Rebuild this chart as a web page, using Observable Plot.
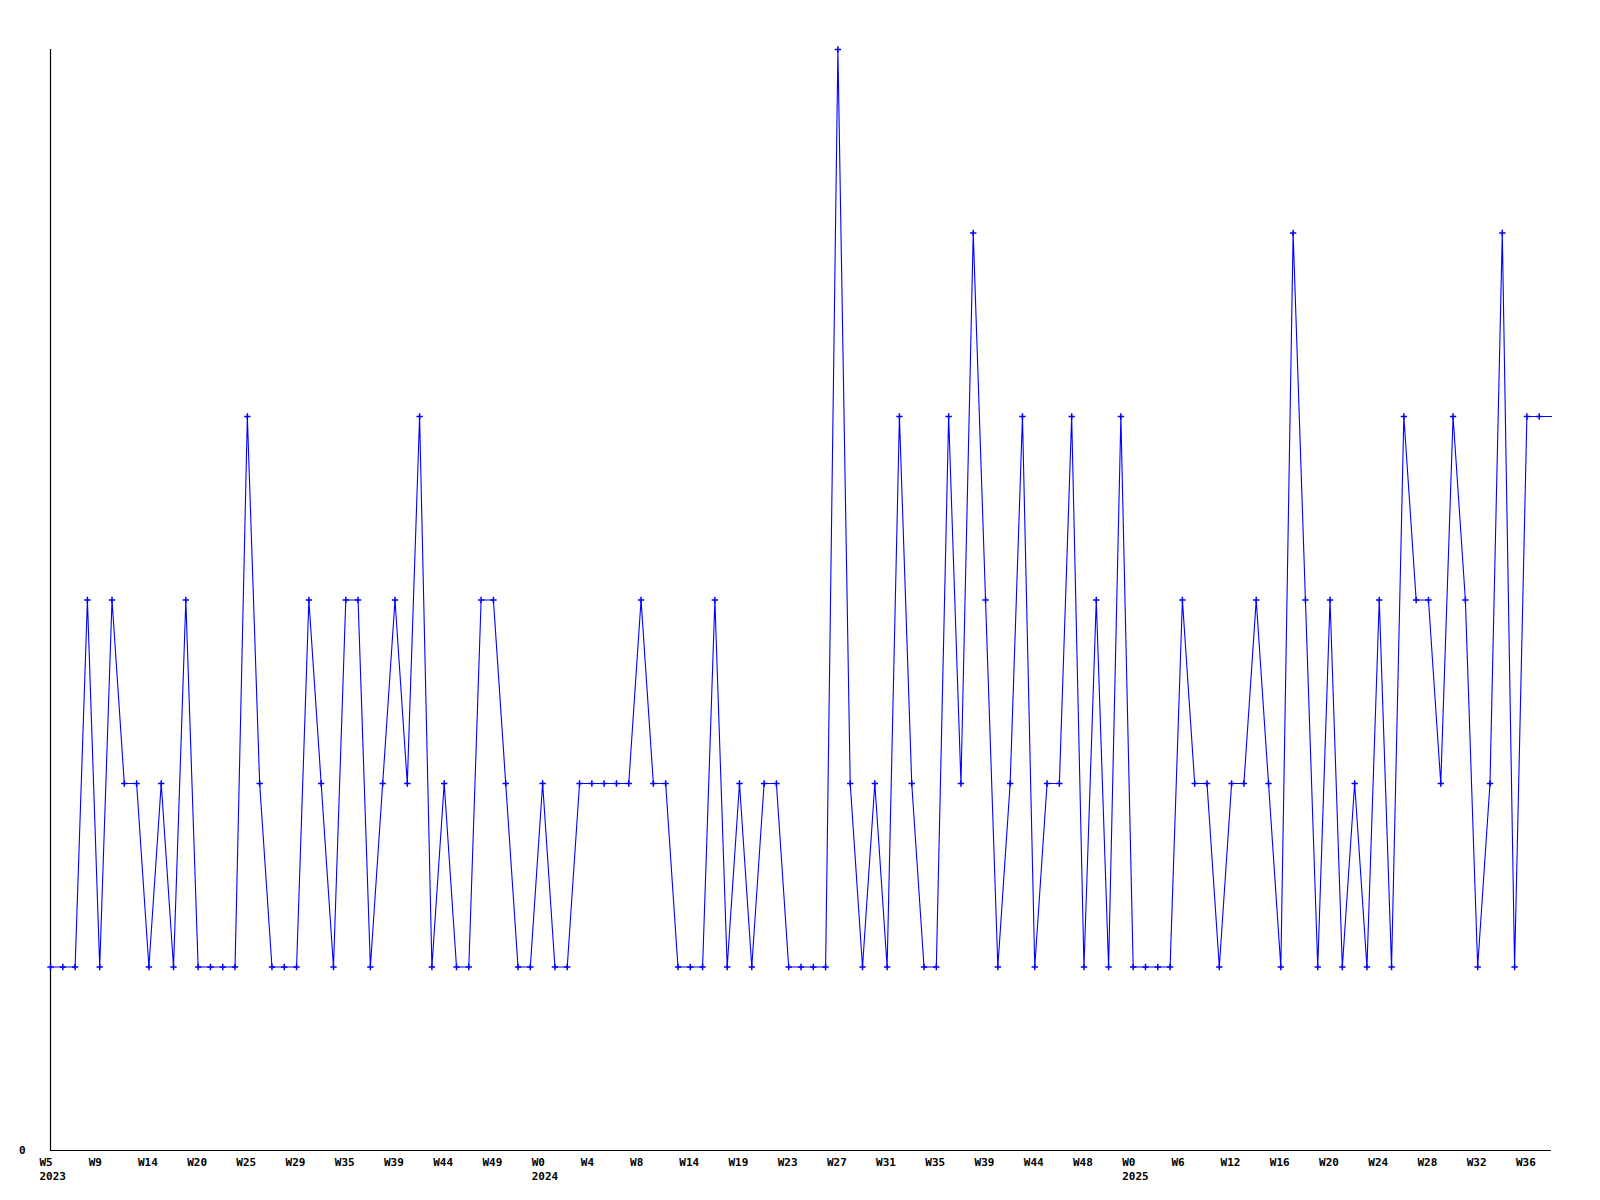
<!DOCTYPE html>
<html>
<head>
<meta charset="utf-8">
<script src="https://cdn.jsdelivr.net/npm/d3@7"></script>
<script src="https://cdn.jsdelivr.net/npm/@observablehq/plot@0.6"></script>
<style>
  html, body { margin: 0; padding: 0; background: #fff; }
  #chart svg { display: block; }
</style>
</head>
<body>
<div id="chart"></div>
<script>
// Weekly counts, one per sample step (index 0 = 2023 W5)
const values = [
  1,1,1,3,1,3,2,2,1,2,
  1,3,1,1,1,1,4,2,1,1,
  1,3,2,1,3,3,1,2,3,2,
  4,1,2,1,1,3,3,2,1,1,
  2,1,1,2,2,2,2,2,3,2,
  2,1,1,1,3,1,2,1,2,2,
  1,1,1,1,6,2,1,2,1,4,
  2,1,1,4,2,5,3,1,2,4,
  1,2,2,4,1,3,1,4,1,1,
  1,1,3,2,2,1,2,2,3,2,
  1,5,3,1,3,1,2,1,3,1,
  4,3,3,2,4,3,1,2,5,1,
  4,4,4
];
// Tick labels, one every 4 samples
const weekLabels = [
  "W5","W9","W14","W20","W25","W29","W35","W39","W44","W49",
  "W0","W4","W8","W14","W19","W23","W27","W31","W35","W39",
  "W44","W48","W0","W6","W12","W16","W20","W24","W28","W32","W36"
];
const yearLabels = ["2023", "2024", "2025"];
const yearTickPos = [0, 10, 22]; // which week label gets a year under it
const tickStep = 4;

const data = values.map((v, i) => ({i, v}));
const tickIdx = weekLabels.map((_, k) => k * tickStep);
const lastIdx = values.length - 1;

const font = {fontFamily: "'DejaVu Sans Mono', monospace", fontWeight: "bold", fontSize: 11};

const chart = Plot.plot({
  width: 1600,
  height: 1200,
  marginLeft: 50,
  marginRight: 49,
  marginTop: 49,
  marginBottom: 50,
  style: {background: "#fff", color: "#000", fontFamily: font.fontFamily},
  x: {type: "linear", domain: [0, lastIdx]},
  y: {type: "linear", domain: [0, 6]},
  marks: [
    Plot.axisY({
      ticks: [0], tickSize: 0, tickPadding: 25, label: null,
      tickFormat: d => String(d), ...font
    }),
    Plot.axisX({
      ticks: tickIdx, tickSize: 0, tickPadding: 5, label: null,
      textAnchor: "start", dx: -11, lineHeight: 1.3,
      tickFormat: i => {
        const k = Math.round(i / tickStep);
        const y = yearTickPos.indexOf(k);
        return weekLabels[k] + (y >= 0 ? "\n" + yearLabels[y] : "");
      },
      ...font
    }),
    Plot.ruleX([0], {stroke: "#000", strokeWidth: 1.2}),
    Plot.ruleY([0], {stroke: "#000", strokeWidth: 1.2}),
    Plot.line(data, {x: "i", y: "v", stroke: "#0000ff", strokeWidth: 1.1, curve: "linear"}),
    Plot.dot(data.filter(d => d.i < lastIdx), {x: "i", y: "v", symbol: "plus", r: 2.2, stroke: "#0000ff", strokeWidth: 1.5, fill: "none"})
  ]
});
document.getElementById("chart").appendChild(chart);
</script>
</body>
</html>
